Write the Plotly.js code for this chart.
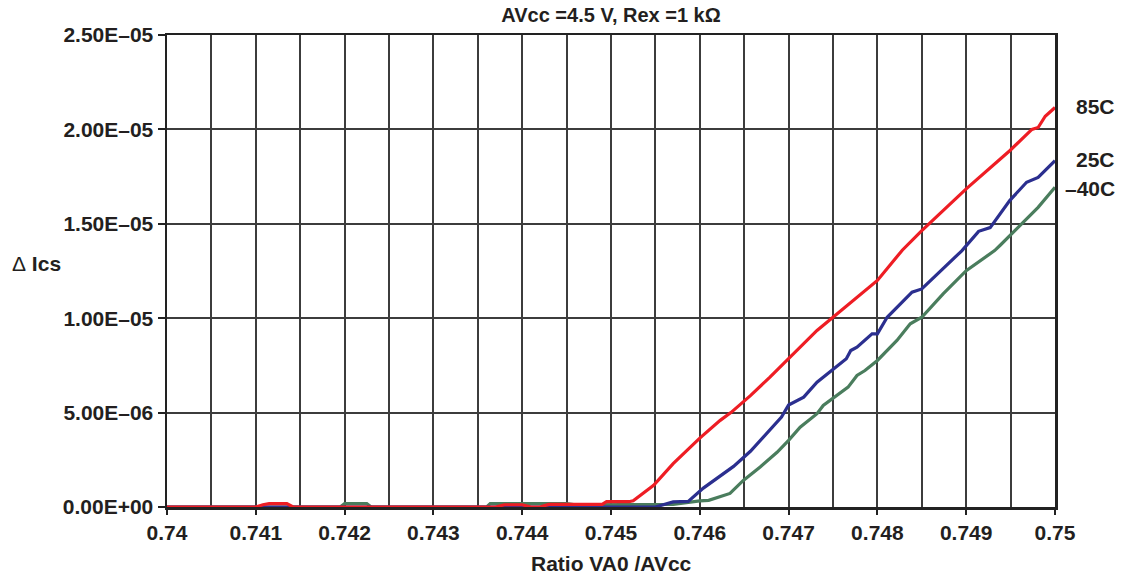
<!DOCTYPE html>
<html>
<head>
<meta charset="utf-8">
<script src="https://cdn.plot.ly/plotly-3.0.1.min.js"></script>
<style>html,body{margin:0;padding:0;background:#fff;}#chart{width:1128px;height:577px;}</style>
</head>
<body>
<div id="chart"></div>
<script>
// ---- data ----
const seriesNames = ["85C", "25C", "\u201340C"];

const x85 = [0.74, 0.7410, 0.74108, 0.74115, 0.74135, 0.74142, 0.7437, 0.7438, 0.7440, 0.7441, 0.7442, 0.7443, 0.7449, 0.74495, 0.7452, 0.74525, 0.74548, 0.7457, 0.7460, 0.74623, 0.74635, 0.74642, 0.74657, 0.74679, 0.7470, 0.74732, 0.7475, 0.74784, 0.7480, 0.74828, 0.7485, 0.7490, 0.74949, 0.74974, 0.74981, 0.74989, 0.7500];
const y85 = [0, 0, 0.12e-6, 0.18e-6, 0.18e-6, 0, 0, 0.12e-6, 0.12e-6, 0, 0, 0.14e-6, 0.14e-6, 0.28e-6, 0.28e-6, 0.33e-6, 1.15e-6, 2.3e-6, 3.65e-6, 4.59e-6, 5.0e-6, 5.29e-6, 5.9e-6, 6.88e-6, 7.87e-6, 9.35e-6, 1.005e-5, 1.138e-5, 1.2e-5, 1.36e-5, 1.464e-5, 1.685e-5, 1.887e-5, 2.0e-5, 2.01e-5, 2.07e-5, 2.116e-5];

const x25 = [0.74, 0.7455, 0.7457, 0.74587, 0.74604, 0.74619, 0.74638, 0.74657, 0.74677, 0.74692, 0.7470, 0.74717, 0.74732, 0.74749, 0.74765, 0.7477, 0.74777, 0.74794, 0.7480, 0.74811, 0.74839, 0.7485, 0.74895, 0.74914, 0.74927, 0.74949, 0.74968, 0.74981, 0.7500];
const y25 = [0, 0, 0.27e-6, 0.3e-6, 1.0e-6, 1.5e-6, 2.15e-6, 2.95e-6, 3.97e-6, 4.76e-6, 5.4e-6, 5.82e-6, 6.61e-6, 7.23e-6, 7.85e-6, 8.29e-6, 8.47e-6, 9.17e-6, 9.17e-6, 1.005e-5, 1.138e-5, 1.155e-5, 1.357e-5, 1.46e-5, 1.48e-5, 1.623e-5, 1.72e-5, 1.746e-5, 1.834e-5];

const xm40 = [0.74, 0.74195, 0.7420, 0.74225, 0.7423, 0.7436, 0.74364, 0.7445, 0.7446, 0.7457, 0.7460, 0.7461, 0.74634, 0.74649, 0.74668, 0.74687, 0.7470, 0.74713, 0.74732, 0.74739, 0.74767, 0.74777, 0.74786, 0.7480, 0.74822, 0.74837, 0.7485, 0.74874, 0.7490, 0.74932, 0.74938, 0.74981, 0.7500];
const ym40 = [0, 0, 0.18e-6, 0.18e-6, 0, 0, 0.18e-6, 0.18e-6, 0.12e-6, 0.14e-6, 0.32e-6, 0.35e-6, 0.72e-6, 1.41e-6, 2.12e-6, 2.9e-6, 3.53e-6, 4.23e-6, 4.94e-6, 5.38e-6, 6.35e-6, 6.97e-6, 7.23e-6, 7.76e-6, 8.82e-6, 9.7e-6, 1.005e-5, 1.129e-5, 1.252e-5, 1.358e-5, 1.385e-5, 1.587e-5, 1.693e-5];

const xTickVals = [0.74, 0.741, 0.742, 0.743, 0.744, 0.745, 0.746, 0.747, 0.748, 0.749, 0.75];
const xTickText = ["0.74", "0.741", "0.742", "0.743", "0.744", "0.745", "0.746", "0.747", "0.748", "0.749", "0.75"];
const xHalfGrid = [0.7405, 0.7415, 0.7425, 0.7435, 0.7445, 0.7455, 0.7465, 0.7475, 0.7485, 0.7495];
const yTickVals = [0, 5e-6, 1e-5, 1.5e-5, 2e-5, 2.5e-5];
const yTickText = ["0.00E+00", "5.00E\u201306", "1.00E\u201305", "1.50E\u201305", "2.00E\u201305", "2.50E\u201305"];

// ---- styling ----
const FONT = "Liberation Sans, Arial, Helvetica, sans-serif";
const TXT = "#231f20";
const GRID = "#3c3c3c";
const colors = ["#ee1d24", "#2b2f8f", "#4a7d5d"];
const labelY = [2.122e-5, 1.84e-5, 1.688e-5];

const traces = [
  {x: xm40, y: ym40, name: seriesNames[2], color: colors[2]},
  {x: x25, y: y25, name: seriesNames[1], color: colors[1]},
  {x: x85, y: y85, name: seriesNames[0], color: colors[0]}
].map(t => ({
  type: "scatter", mode: "lines", x: t.x, y: t.y, name: t.name,
  line: {color: t.color, width: 3.2}, hoverinfo: "skip"
}));
// invisible trace to bind the secondary x axis used only for half-step gridlines
traces.unshift({type: "scatter", mode: "lines", x: [xTickVals[0]], y: [yTickVals[0]], xaxis: "x2", yaxis: "y",
  line: {width: 0}, opacity: 0, hoverinfo: "skip", showlegend: false});

const annotations = seriesNames.map((n, i) => ({
  xref: "paper", yref: "y", x: 1.0698, y: labelY[i], xanchor: "right", yanchor: "middle",
  text: n, showarrow: false, font: {family: FONT, size: 21, color: TXT, weight: 700}
}));
annotations.push({
  xref: "paper", yref: "paper", x: -0.1475, y: 0.516, xanchor: "center", yanchor: "middle",
  text: "<span style='font-weight:normal'>\u0394</span> Ics", showarrow: false,
  font: {family: FONT, size: 21, color: TXT, weight: 700}
});
annotations.push({
  xref: "paper", yref: "paper", x: 0.5, y: -0.119, xanchor: "center", yanchor: "middle",
  text: "Ratio VA0 /AVcc", showarrow: false,
  font: {family: FONT, size: 21, color: TXT, weight: 700}
});

const layout = {
  width: 1128, height: 577,
  margin: {l: 167, r: 73, t: 35, b: 70, pad: 0},
  paper_bgcolor: "#fff", plot_bgcolor: "#fff",
  showlegend: false,
  title: {
    text: "AVcc =4.5 V, Rex =1 k\u03A9",
    font: {family: FONT, size: 20, color: TXT, weight: 700},
    xref: "paper", x: 0.5, xanchor: "center",
    yref: "container", y: 1 - 15 / 577, yanchor: "middle"
  },
  xaxis: {
    range: [0.74, 0.75], tickmode: "array", tickvals: xTickVals, ticktext: xTickText,
    ticks: "outside", ticklen: 5, tickwidth: 2, tickcolor: "#222",
    showgrid: true, gridcolor: GRID, gridwidth: 2,
    showline: true, linecolor: "#222", linewidth: 2.5, mirror: true,
    zeroline: false, tickfont: {family: FONT, size: 21, color: TXT, weight: 700}
  },
  xaxis2: {
    overlaying: "x", matches: "x", range: [0.74, 0.75], tickmode: "array", tickvals: xHalfGrid,
    showticklabels: false, ticks: "", showgrid: true, gridcolor: GRID, gridwidth: 2,
    showline: false, zeroline: false, side: "bottom"
  },
  yaxis: {
    range: [0, 2.5e-5], tickmode: "array", tickvals: yTickVals, ticktext: yTickText,
    ticks: "outside", ticklen: 7, tickwidth: 2, tickcolor: "#222",
    showgrid: true, gridcolor: GRID, gridwidth: 2,
    showline: true, linecolor: "#222", linewidth: 2.5, mirror: true,
    zeroline: false, tickfont: {family: FONT, size: 21, color: TXT, weight: 700}
  },
  annotations: annotations
};

Plotly.newPlot("chart", traces, layout, {staticPlot: true, displayModeBar: false});
</script>
</body>
</html>
